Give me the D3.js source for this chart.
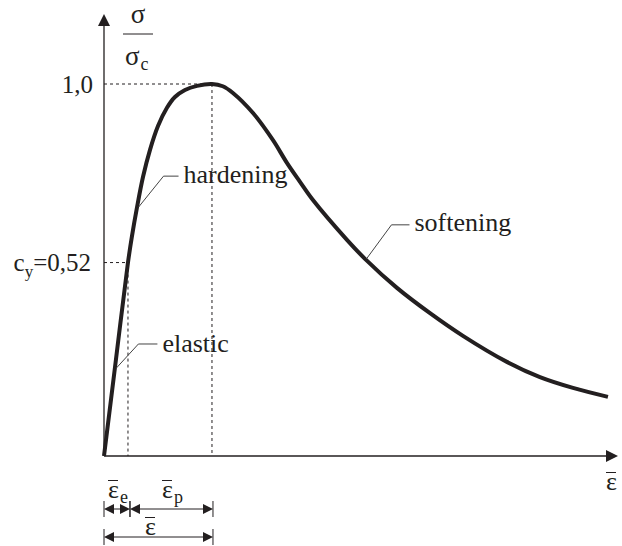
<!DOCTYPE html>
<html>
<head>
<meta charset="utf-8">
<script src="https://cdn.jsdelivr.net/npm/d3@7"></script>
<style>
  body { margin: 0; background: #fff; }
</style>
</head>
<body>
<div id="chart"></div>
<script>
// # DATA
// # ------------------------------
// # ------------------------------
var strain = [0, 0.111, 0.222, 0.259, 0.306, 0.361, 0.426, 0.5, 0.583, 0.657, 0.750, 0.861, 1.0,
              1.1, 1.194, 1.380, 1.565, 1.694, 1.815, 1.935, 2.25, 2.417, 2.713, 3.019,
              3.324, 3.731, 4.037, 4.343, 4.667];
var stress = [0, 0.26, 0.52, 0.591, 0.669, 0.750, 0.823, 0.887, 0.936, 0.965, 0.984, 0.995, 1.0,
              0.994, 0.976, 0.922, 0.849, 0.788, 0.737, 0.688, 0.581, 0.530, 0.452, 0.384,
              0.323, 0.253, 0.212, 0.183, 0.159];

var eps_e    = 0.222;   // elastic strain at yield
var eps_peak = 1.0;     // strain at peak stress
var c_y      = 0.52;    // yield ratio

var y_labels  = ["1,0", "c", "y", "=0,52"];
var regions   = ["elastic", "hardening", "softening"];
var region_at = [0.101, 0.306, 2.417];   // strain where each leader touches the curve

// # MISC
// # ------------------------------
// # ------------------------------
var width  = 622,
    height = 546,
    ink    = "#231f20",
    serif  = "'Liberation Serif'";

var svg = d3.select("#chart").append("svg")
    .attr("width", width)
    .attr("height", height)
    .style("font-family", serif);

var x = d3.scaleLinear().domain([0, 4.76]).range([104, 618]);
var y = d3.scaleLinear().domain([0, 1]).range([456, 84]);

// ## interp_stress
// # ------------------------------
var interp_stress = function(e) {
  var i = d3.bisectLeft(strain, e);
  if (i <= 0) return stress[0];
  var t = (e - strain[i-1]) / (strain[i] - strain[i-1]);
  return stress[i-1] + t * (stress[i] - stress[i-1]);
}

// ## add_text
// # ------------------------------
var add_text = function(px, py, size, txt, anchor) {
  return svg.append("text")
      .attr("x", px)
      .attr("y", py)
      .attr("text-anchor", anchor || "start")
      .attr("fill", ink)
      .style("font-family", serif)
      .style("font-size", size + "px")
      .text(txt);
}

// ## eps_bar : epsilon with overbar
// # ------------------------------
var eps_bar = function(px, baseline, sub) {
  var t = add_text(px, baseline, 26, "ε");
  if (sub) {
    t.append("tspan")
      .attr("dy", 5)
      .attr("dx", 1)
      .style("font-size", "18px")
      .text(sub);
  }
  svg.append("line")
      .attr("x1", px).attr("x2", px + 10)
      .attr("y1", baseline - 17.5).attr("y2", baseline - 17.5)
      .attr("stroke", ink)
      .attr("stroke-width", 1);
}

// ## arrow_head
// # ------------------------------
var arrow_head = function(tip_x, tip_y, dir, len, half) {
  var pts;
  if (dir == "up")    pts = [[tip_x, tip_y], [tip_x - half, tip_y + len], [tip_x + half, tip_y + len]];
  if (dir == "right") pts = [[tip_x, tip_y], [tip_x - len, tip_y - half], [tip_x - len, tip_y + half]];
  if (dir == "left")  pts = [[tip_x, tip_y], [tip_x + len, tip_y - half], [tip_x + len, tip_y + half]];
  svg.append("path")
      .attr("d", "M" + pts.join("L") + "Z")
      .attr("fill", ink);
}

// # AXES
// # ------------------------------
// # ------------------------------
var y_top = 14;
svg.append("line")
    .attr("x1", x(0)).attr("x2", x(0))
    .attr("y1", y(0)).attr("y2", y_top + 6)
    .attr("stroke", ink).attr("stroke-width", 1.3);
arrow_head(x(0), y_top, "up", 12, 6);

svg.append("line")
    .attr("x1", x(0)).attr("x2", x.range()[1] - 6)
    .attr("y1", y(0)).attr("y2", y(0))
    .attr("stroke", ink).attr("stroke-width", 1.3);
arrow_head(x.range()[1], y(0), "right", 12, 6);

// ## reference lines
// # ------------------------------
var ref = svg.append("g")
    .attr("stroke", ink)
    .attr("stroke-width", 1)
    .attr("stroke-dasharray", "3,3");

ref.append("line")
    .attr("x1", x(0)).attr("x2", x(eps_peak))
    .attr("y1", y(1)).attr("y2", y(1));
ref.append("line")
    .attr("x1", x(eps_peak)).attr("x2", x(eps_peak))
    .attr("y1", y(1)).attr("y2", y(0));
ref.append("line")
    .attr("x1", x(0)).attr("x2", x(eps_e))
    .attr("y1", y(c_y)).attr("y2", y(c_y));
ref.append("line")
    .attr("x1", x(eps_e)).attr("x2", x(eps_e))
    .attr("y1", y(c_y)).attr("y2", y(0));

// ## y labels
// # ------------------------------
add_text(93, y(1) + 9, 25, y_labels[0], "end");

var cy_text = add_text(91, y(c_y) + 8, 25, "", "end");
cy_text.append("tspan").text(y_labels[1]);
cy_text.append("tspan").attr("dy", 6).style("font-size", "17px").text(y_labels[2]);
cy_text.append("tspan").attr("dy", -6).text(y_labels[3]);

// ## sigma / sigma_c
// # ------------------------------
add_text(138, 23, 27, "σ", "middle");
svg.append("line")
    .attr("x1", 123).attr("x2", 153)
    .attr("y1", 34).attr("y2", 34)
    .attr("stroke", ink).attr("stroke-width", 1);
add_text(125, 65, 27, "σ")
  .append("tspan")
    .attr("dy", 5).attr("dx", 1)
    .style("font-size", "18px")
    .text("c");

// # CURVE
// # ------------------------------
// # ------------------------------
var line = d3.line()
    .x(function(d, i) { return x(strain[i]); })
    .y(function(d, i) { return y(stress[i]); })
    .curve(d3.curveCatmullRom.alpha(0.5));

svg.append("path")
    .datum(strain)
    .attr("d", line)
    .attr("fill", "none")
    .attr("stroke", ink)
    .attr("stroke-width", 4)
    .attr("stroke-linejoin", "round");

// ## region leaders
// # ------------------------------
var leader_dx  = [[22, -24, 19], [25, -31, 15], [25, -34, 18]];
var label_base = [8, 7, 6];
for (var i = 0; i < regions.length; i++) {
  var px = x(region_at[i]) + 1.5,
      py = y(interp_stress(region_at[i]));
  var kx = px + leader_dx[i][0],
      ky = py + leader_dx[i][1],
      ex = kx + leader_dx[i][2];
  svg.append("path")
      .attr("d", "M" + px + "," + py + "L" + kx + "," + ky + "L" + ex + "," + ky)
      .attr("fill", "none")
      .attr("stroke", "#444")
      .attr("stroke-width", 1);
  add_text(ex + 5, ky + label_base[i], 26, regions[i]);
}

// # STRAIN DIMENSIONS
// # ------------------------------
// # ------------------------------
var row1 = 509, row2 = 537;

var dim = function(a, b, row) {
  svg.append("line")
      .attr("x1", a + 8).attr("x2", b - 8)
      .attr("y1", row).attr("y2", row)
      .attr("stroke", ink).attr("stroke-width", 1);
  arrow_head(a, row, "left", 10, 5);
  arrow_head(b, row, "right", 10, 5);
  [a, b].forEach(function(t) {
    svg.append("line")
        .attr("x1", t).attr("x2", t)
        .attr("y1", row - 8).attr("y2", row + 8)
        .attr("stroke", ink).attr("stroke-width", 1);
  });
}

dim(x(0), x(eps_e) + 2, row1);
dim(x(eps_e) + 2, x(eps_peak) + 1, row1);
dim(x(0), x(eps_peak) + 1, row2);

eps_bar(108, 498, "e");
eps_bar(162, 498, "p");
eps_bar(145, 535, null);
eps_bar(606, 490, null);
</script>
</body>
</html>
